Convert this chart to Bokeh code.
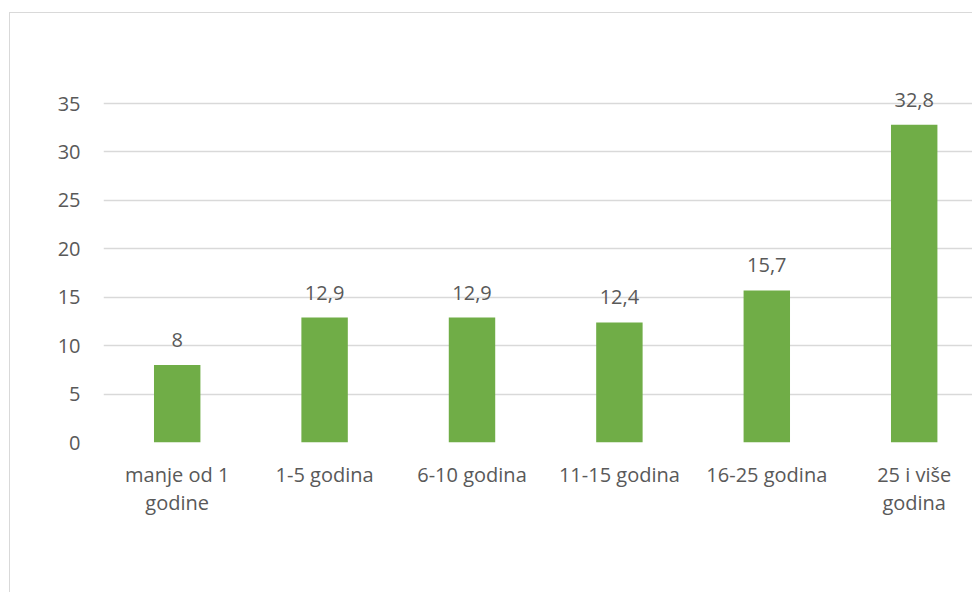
from bokeh.plotting import figure
from bokeh.models import ColumnDataSource, FixedTicker, Range1d
from bokeh.core.properties import value
from bokeh.embed import file_html
from bokeh.resources import INLINE

categories = ["manje od 1\ngodine", "1-5 godina", "6-10 godina", "11-15 godina",
              "16-25 godina", "25 i više\ngodina"]
values = [8, 12.9, 12.9, 12.4, 15.7, 32.8]
y_ticks = [0, 5, 10, 15, 20, 25, 30, 35]

def fmt(v):
    s = ("%g" % v)
    return s.replace(".", ",")

xs = list(range(len(categories)))
src = ColumnDataSource(dict(x=xs, top=values, label=[fmt(v) for v in values]))

FONT = "Open Sans"
TXT = "#595959"

p = figure(width=963, height=580, output_backend="svg", toolbar_location=None,
           x_range=Range1d(-0.5, -0.5 + 870 / 147.4), y_range=Range1d(0, 38.0),
           min_border_left=93, min_border_right=0, min_border_top=61,
           min_border_bottom=151)
p.margin = (12, 0, 0, 9)
p.styles = {"border-left": "1px solid #d9d9d9", "border-top": "1px solid #d9d9d9"}
p.outline_line_color = None
p.background_fill_color = "white"
p.border_fill_color = "white"

p.vbar(x="x", top="top", width=0.315, bottom=0, source=src,
       fill_color="#70ad47", line_color=None)
p.text(x="x", y="top", text="label", source=src, text_align="center",
       text_baseline="middle", y_offset=-25, text_font=value(FONT),
       text_font_size="20px", text_color=TXT)

p.xgrid.grid_line_color = None
p.ygrid.grid_line_color = "#d9d9d9"
p.ygrid.grid_line_width = 1.5
p.ygrid.ticker = FixedTicker(ticks=y_ticks)

p.yaxis.ticker = FixedTicker(ticks=y_ticks)
p.xaxis.ticker = FixedTicker(ticks=xs)
p.xaxis.major_label_overrides = {i: c for i, c in enumerate(categories)}

for ax in (p.xaxis, p.yaxis):
    ax.axis_line_color = None
    ax.major_tick_line_color = None
    ax.minor_tick_line_color = None
    ax.major_label_text_font = FONT
    ax.major_label_text_font_size = "20px"
    ax.major_label_text_color = TXT
p.yaxis.major_label_standoff = 17
p.xaxis.major_label_standoff = 12
p.xaxis.major_label_text_line_height = 1.04

open("out.html", "w").write(file_html(p, INLINE))
